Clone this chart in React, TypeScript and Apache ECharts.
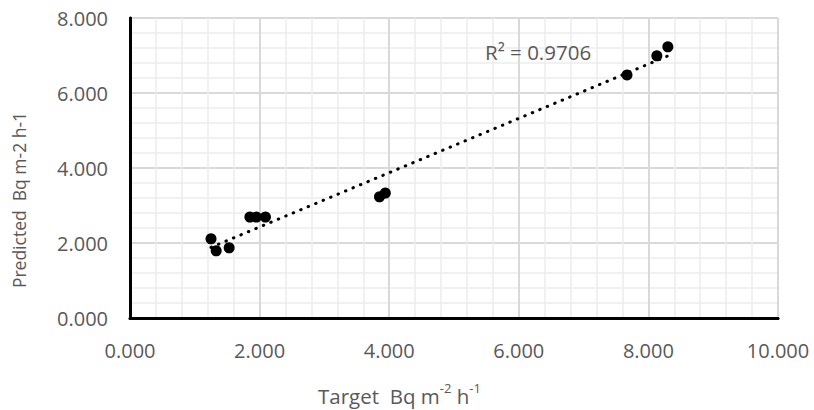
import React, { useEffect, useRef } from "react";
import * as echarts from "echarts";

const targetValues = [1.25, 1.33, 1.53, 1.85, 1.95, 2.09, 3.85, 3.94, 7.67, 8.13, 8.3];
const predictedValues = [2.11, 1.79, 1.87, 2.69, 2.69, 2.69, 3.23, 3.33, 6.48, 6.99, 7.23];
const rSquaredLabel = "R² = 0.9706";
const xTitle = "Target  Bq m-2 h-1";
const yTitle = "Predicted  Bq m-2 h-1";

const FONT = "Open Sans";
const TEXT_COLOR = "#595959";

function linearFit(xs: number[], ys: number[]) {
  const n = xs.length;
  const mx = xs.reduce((a, b) => a + b, 0) / n;
  const my = ys.reduce((a, b) => a + b, 0) / n;
  let sxy = 0;
  let sxx = 0;
  for (let i = 0; i < n; i++) {
    sxy += (xs[i] - mx) * (ys[i] - my);
    sxx += (xs[i] - mx) * (xs[i] - mx);
  }
  const slope = sxy / sxx;
  return { slope, intercept: my - slope * mx };
}

export default function App() {
  const ref = useRef<HTMLDivElement>(null);
  useEffect(() => {
    if (!ref.current) return;
    const chart = echarts.init(ref.current, null, { renderer: "svg" });
    const { slope, intercept } = linearFit(targetValues, predictedValues);
    const xMin = Math.min(...targetValues);
    const xMax = Math.max(...targetValues);
    const trend = [
      [xMin, slope * xMin + intercept],
      [xMax, slope * xMax + intercept],
    ];
    const points = targetValues.map((x, i) => [x, predictedValues[i]]);
    const labelStyle = {
      color: TEXT_COLOR,
      fontFamily: FONT,
      fontSize: 20,
      margin: 22,
      formatter: (v: number) => v.toFixed(3),
    };
    const mainAxis = {
      type: "value" as const,
      interval: 2,
      min: 0,
      splitNumber: 5,
      axisTick: { show: false },
      axisLine: { show: true, lineStyle: { color: "#000000", width: 2.5 } },
      axisLabel: labelStyle,
      splitLine: { show: true, lineStyle: { color: "#d9d9d9", width: 2 } },
      minorTick: { show: false, splitNumber: 5 },
      minorSplitLine: { show: true, lineStyle: { color: "#ededed", width: 1.5 } },
      z: 1,
    };
    const frameAxis = {
      type: "value" as const,
      interval: 2,
      min: 0,
      axisTick: { show: false },
      axisLabel: { show: false },
      splitLine: { show: false },
      axisLine: { show: true, lineStyle: { color: "#000000", width: 3 } },
      z: 5,
    };
    chart.setOption({
      animation: false,
      backgroundColor: "#ffffff",
      grid: {
        left: 130,
        right: 36,
        top: 18,
        bottom: 92,
        show: false,
      },
      xAxis: [
        { ...mainAxis, max: 10, position: "bottom" },
        { ...frameAxis, max: 10, position: "top" },
      ],
      yAxis: [
        { ...mainAxis, max: 8, position: "left" },
        { ...frameAxis, max: 8, position: "right" },
      ],
      series: [
        {
          type: "line",
          data: trend,
          showSymbol: false,
          symbol: "none",
          lineStyle: { color: "#000000", width: 3, type: [0.5, 7.6], cap: "round" },
          z: 3,
        },
        {
          type: "scatter",
          data: points,
          symbol: "circle",
          symbolSize: 11,
          itemStyle: { color: "#000000", opacity: 1 },
          z: 4,
        },
      ],
      graphic: [
        {
          type: "text",
          left: 485,
          top: 41,
          style: {
            text: rSquaredLabel,
            fill: TEXT_COLOR,
            font: `20.5px "${FONT}"`,
          },
          z: 10,
        },
        {
          type: "text",
          x: 19,
          y: 200,
          rotation: Math.PI / 2,
          style: {
            text: yTitle,
            fill: TEXT_COLOR,
            font: `17.5px "${FONT}"`,
            align: "center",
            verticalAlign: "middle",
          },
        },
        {
          type: "text",
          x: 318,
          y: 381,
          style: {
            text: "{a|Target  Bq m}{s|-2}{a| h}{s|-1}",
            fill: TEXT_COLOR,
            rich: {
              a: { fontFamily: FONT, fontSize: 20.5, fill: TEXT_COLOR, lineHeight: 25, verticalAlign: "bottom" },
              s: { fontFamily: FONT, fontSize: 13, fill: TEXT_COLOR, lineHeight: 25, verticalAlign: "top" },
            },
          },
        },
      ],
    });
    return () => chart.dispose();
  }, []);
  return (
    <div
      ref={ref}
      style={{ position: "fixed", left: 0, top: 0, width: 814, height: 410 }}
      aria-label={xTitle}
    />
  );
}
